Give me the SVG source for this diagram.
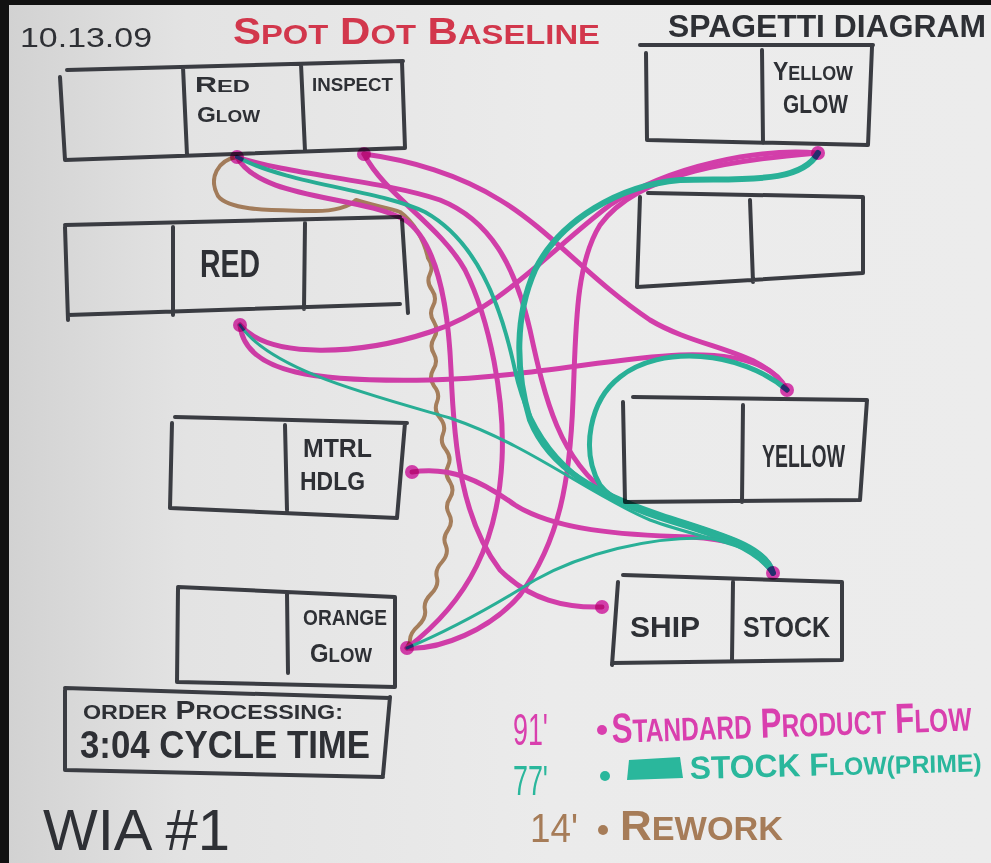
<svg xmlns="http://www.w3.org/2000/svg" width="991" height="863" viewBox="0 0 991 863">
<defs>
<linearGradient id="paper" x1="0" y1="0" x2="1" y2="0">
<stop offset="0" stop-color="#d2d2d2"/>
<stop offset="0.18" stop-color="#e3e3e3"/>
<stop offset="0.55" stop-color="#ebebeb"/>
<stop offset="1" stop-color="#ececec"/>
</linearGradient>
<style>
.box{fill:none;stroke:#3a3c42;stroke-width:4;stroke-linecap:round;stroke-linejoin:round}
.t{font-family:"Liberation Sans","DejaVu Sans",sans-serif;font-weight:bold;fill:#2e3035}
.n{font-weight:normal}
.s{font-size:78%}
.red{fill:#d2374c}
.mg{fill:none;stroke:#e443b8;stroke-width:5;stroke-linecap:round}
.tl{fill:none;stroke:#2cbfa4;stroke-linecap:round}
.br{fill:none;stroke:#b58a64;stroke-width:4;stroke-linecap:round;stroke-linejoin:round}
.mult{mix-blend-mode:multiply}
.dot{fill:#e443b8}
.lm{fill:#d93fae}
.lt{fill:#2ab79c}
.lb{fill:#a67c58}
</style>
</defs>
<rect x="0" y="0" width="991" height="863" fill="#111"/>
<rect x="9" y="5" width="982" height="858" fill="url(#paper)"/>

<g id="title">
<text class="t n" x="20" y="47" font-size="28" textLength="132" lengthAdjust="spacingAndGlyphs">10.13.09</text>
<text class="t red" x="233" y="44" font-size="36" textLength="367" lengthAdjust="spacingAndGlyphs">S<tspan class="s">POT</tspan> D<tspan class="s">OT</tspan> B<tspan class="s">ASELINE</tspan></text>
<text class="t" x="668" y="37" font-size="32" textLength="318" lengthAdjust="spacingAndGlyphs">SPAGETTI DIAGRAM</text>
</g>

<g id="node-red-glow-inspect">
<path class="box" d="M67,70 L403,61 M402,62 L405,148 M405,148 L65,160 M65,160 L60,77 M183,67 L187,155 M301,64 L305,151"/>
<text class="t" x="195" y="92" font-size="22" textLength="55" lengthAdjust="spacingAndGlyphs">R<tspan class="s">ED</tspan></text>
<text class="t" x="197" y="122" font-size="22" textLength="63" lengthAdjust="spacingAndGlyphs">G<tspan class="s">LOW</tspan></text>
<text class="t" x="312" y="91" font-size="19" textLength="81" lengthAdjust="spacingAndGlyphs">INSPECT</text>
</g>

<g id="node-red">
<path class="box" d="M65,225 L400,217 M402,220 L408,313 M400,304 L68,315 M65,227 L68,320 M173,227 L173,315 M305,223 L304,309"/>
<text class="t" x="200" y="277" font-size="38" textLength="60" lengthAdjust="spacingAndGlyphs">RED</text>
</g>

<g id="node-mtrl-hdlg">
<path class="box" d="M175,417 L407,423 M405,423 L397,518 M397,518 L170,508 M172,423 L170,508 M285,425 L287,510"/>
<text class="t" x="303" y="457" font-size="26" textLength="69" lengthAdjust="spacingAndGlyphs">MTRL</text>
<text class="t" x="300" y="490" font-size="26" textLength="65" lengthAdjust="spacingAndGlyphs">HDLG</text>
</g>

<g id="node-orange-glow">
<path class="box" d="M178,587 L395,597 M395,597 L395,687 M395,687 L177,682 M178,588 L177,682 M287,593 L288,673"/>
<text class="t" x="303" y="625" font-size="22" textLength="84" lengthAdjust="spacingAndGlyphs">ORANGE</text>
<text class="t" x="310" y="662" font-size="26" textLength="62" lengthAdjust="spacingAndGlyphs">G<tspan class="s">LOW</tspan></text>
</g>

<g id="node-order-processing">
<path class="box" d="M65,688 L390,698 M390,697 L383,775 M383,777 L65,770 M65,690 L65,770"/>
<text class="t" x="83" y="719" font-size="26" textLength="260" lengthAdjust="spacingAndGlyphs"><tspan class="s">ORDER</tspan> P<tspan class="s">ROCESSING:</tspan></text>
<text class="t" x="80" y="758" font-size="38" textLength="290" lengthAdjust="spacingAndGlyphs">3:04 CYCLE TIME</text>
</g>

<g id="node-yellow-glow">
<path class="box" d="M640,45 L873,45 M872,47 L868,145 M868,145 L647,140 M646,53 L647,140 M762,50 L763,143"/>
<text class="t" x="773" y="80" font-size="26" textLength="80" lengthAdjust="spacingAndGlyphs">Y<tspan class="s">ELLOW</tspan></text>
<text class="t" x="783" y="113" font-size="26" textLength="65" lengthAdjust="spacingAndGlyphs">GLOW</text>
</g>

<g id="node-empty">
<path class="box" d="M648,193 L863,197 M863,197 L863,273 M863,273 L637,287 M640,197 L637,287 M750,200 L753,282"/>
</g>

<g id="node-yellow">
<path class="box" d="M633,397 L867,400 M867,400 L860,500 M860,500 L625,502 M623,402 L625,502 M743,405 L742,502"/>
<text class="t" x="762" y="467" font-size="32" textLength="83" lengthAdjust="spacingAndGlyphs">YELLOW</text>
</g>

<g id="node-ship-stock">
<path class="box" d="M623,575 L842,582 M842,582 L842,660 M842,660 L612,663 M618,582 L612,665 M733,582 L732,660"/>
<text class="t" x="630" y="637" font-size="30" textLength="70" lengthAdjust="spacingAndGlyphs">SHIP</text>
<text class="t" x="743" y="637" font-size="30" textLength="87" lengthAdjust="spacingAndGlyphs">STOCK</text>
</g>

<g id="connectors" class="mult">
<path class="br" d="M237,157 C218,160 208,178 218,196 C230,212 280,210 310,211 C335,212 350,206 356,200 C370,205 390,208 400,212 C414,222 424,240 428,258 Q434,266 430,274 Q426,282 432,290 Q437.5,298 433,306 Q428.5,314 434,322 Q439,330 434,338 Q429,346 434,354 Q438.5,362 433,370 Q428.5,378 434,386 Q440.5,394 437,402 Q433.5,410 440,418 Q446.5,426 443,434 Q439.5,442 446,450 Q452,458 448,466 Q444,474 450,482 Q455,490 450,498 Q444.5,506 449,514 Q453.5,522 448,530 Q442,538 446,546 Q449,554 442,562 Q434.5,570 437,578 Q439,586 431,594 Q423,602 425,610 Q426.5,618 418,626 Q409,634 410,642 L407,648"/>
<path class="mg" d="M237,157 C260,200 360,195 405,220 C435,240 448,300 451,370 C454,450 462,520 500,570 C530,600 565,608 602,607"/>
<path class="mg" d="M237,157 C290,175 380,180 440,200 C490,220 515,265 530,330 C545,400 560,460 610,495 C660,525 740,525 773,573"/>
<path class="mg" d="M364,154 C385,195 440,225 465,270 C490,320 505,400 502,460 C498,540 470,600 407,648"/>
<path class="mg" d="M364,154 C410,160 460,175 500,200 C550,230 590,280 650,320 C700,350 765,350 787,390"/>
<path class="mg" d="M818,153 C740,160 640,170 600,225 C575,265 576,330 573,400 C570,480 560,540 520,595 C490,630 440,650 407,648"/>
<path class="mg" d="M240,325 C270,360 360,355 430,332 C500,310 550,250 610,205 C670,165 760,148 818,153"/>
<path class="mg" d="M240,325 C245,375 320,382 430,380 C530,377 610,358 680,355 C740,353 775,365 787,390"/>
<path class="mg" d="M412,472 C450,466 480,480 515,505 C555,530 620,535 690,537 C740,540 768,552 773,573"/>
<path class="tl" stroke-width="4" d="M237,157 C290,185 380,190 425,212 C475,240 500,300 515,370 C530,440 570,485 640,510 C710,532 760,540 773,573"/>
<path class="tl" stroke-width="6" d="M818,153 C800,185 740,178 680,180 C620,185 560,220 535,270 C515,315 515,370 530,420 C550,470 600,495 660,515 C720,535 765,545 773,573"/>
<path class="tl" stroke-width="3" d="M240,325 C270,370 370,395 450,418 C530,445 590,495 650,520 C710,542 765,545 773,573"/>
<path class="tl" stroke-width="5" d="M787,390 C740,350 660,345 620,377 C590,400 580,450 600,485 C630,525 740,525 773,573"/>
<path class="tl" stroke-width="3" d="M407,648 C450,630 495,605 535,580 C585,552 650,538 700,538 C745,540 768,552 773,573"/>
</g>

<g id="endpoints" class="mult">
<circle class="dot" cx="237" cy="157" r="7"/>
<circle class="dot" cx="364" cy="154" r="7"/>
<circle class="dot" cx="818" cy="153" r="7"/>
<circle class="dot" cx="240" cy="325" r="7"/>
<circle class="dot" cx="787" cy="390" r="7"/>
<circle class="dot" cx="412" cy="472" r="7"/>
<circle class="dot" cx="407" cy="648" r="7"/>
<circle class="dot" cx="602" cy="607" r="7"/>
<circle class="dot" cx="773" cy="573" r="7"/>
</g>

<g id="legend">
<text class="t n lm" x="513" y="745" font-size="44" textLength="35" lengthAdjust="spacingAndGlyphs">91'</text>
<circle class="lm" cx="602" cy="730" r="5"/>
<text class="t lm" x="612" y="743" font-size="42" textLength="360" lengthAdjust="spacingAndGlyphs" transform="rotate(-2 612 743)">S<tspan class="s">TANDARD</tspan> P<tspan class="s">RODUCT</tspan> F<tspan class="s">LOW</tspan></text>
<text class="t n lt" x="513" y="795" font-size="42" textLength="35" lengthAdjust="spacingAndGlyphs">77'</text>
<circle class="lt" cx="605" cy="776" r="5"/>
<path class="lt" d="M629,760 L680,757 L683,778 L627,780 Z"/>
<text class="t lt" x="690" y="779" font-size="32" textLength="292" lengthAdjust="spacingAndGlyphs" transform="rotate(-1.5 690 779)">STOCK F<tspan class="s">LOW(PRIME)</tspan></text>
<text class="t n lb" x="530" y="842" font-size="40" textLength="48" lengthAdjust="spacingAndGlyphs">14'</text>
<circle class="lb" cx="603" cy="830" r="5"/>
<text class="t lb" x="620" y="840" font-size="42" textLength="163" lengthAdjust="spacingAndGlyphs">R<tspan class="s">EWORK</tspan></text>
<text class="t n" x="43" y="850" font-size="58" textLength="187" lengthAdjust="spacingAndGlyphs">WIA #1</text>
</g>
</svg>
